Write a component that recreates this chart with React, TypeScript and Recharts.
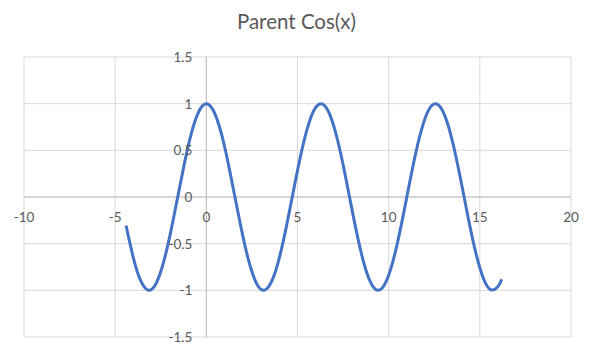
import React from 'react';
import { LineChart, Line, XAxis, YAxis, CartesianGrid, ReferenceLine, ReferenceDot } from 'recharts';

const xValues = [
  -4.4, -4.0, -3.6, -3.2, -2.8, -2.4, -2.0, -1.6, -1.2, -0.8, -0.4, 0,
  0.4, 0.8, 1.2, 1.6, 2.0, 2.4, 2.8, 3.2, 3.6, 4.0, 4.4, 4.8,
  5.2, 5.6, 6.0, 6.4, 6.8, 7.2, 7.6, 8.0, 8.4, 8.8, 9.2, 9.6,
  10.0, 10.4, 10.8, 11.2, 11.6, 12.0, 12.4, 12.8, 13.2, 13.6, 14.0, 14.4,
  14.8, 15.2, 15.6, 16.0, 16.2,
];
const yValues = [
  -0.307, -0.654, -0.897, -0.998, -0.942, -0.737, -0.416, -0.029, 0.362, 0.697, 0.921, 1,
  0.921, 0.697, 0.362, -0.029, -0.416, -0.737, -0.942, -0.998, -0.897, -0.654, -0.307, 0.088,
  0.469, 0.776, 0.960, 0.993, 0.869, 0.608, 0.251, -0.146, -0.519, -0.812, -0.975, -0.985,
  -0.839, -0.561, -0.194, 0.203, 0.569, 0.844, 0.986, 0.973, 0.806, 0.512, 0.137, -0.260,
  -0.615, -0.874, -0.994, -0.958, -0.882,
];
const xTicks = [-10, -5, 0, 5, 10, 15, 20];
const yTicks = [-1.5, -1, -0.5, 0, 0.5, 1, 1.5];
const title = 'Parent Cos(x)';

const data = xValues.map((x, i) => ({ x, y: yValues[i] }));

const FONT = 'Lato, Carlito, "Liberation Sans", sans-serif';
const TEXT_COLOR = '#595959';

const xLabel = (value: number) => (props: any) => {
  const vb = props.viewBox || {};
  return (
    <text x={vb.x} y={vb.y + 20} textAnchor="middle" dominantBaseline="central"
      fontSize={13.5} fontFamily={FONT} fill={TEXT_COLOR}>{String(value)}</text>
  );
};
const yLabel = (value: number) => (props: any) => {
  const vb = props.viewBox || {};
  return (
    <text x={vb.x - 14} y={vb.y} textAnchor="end" dominantBaseline="central"
      fontSize={13.5} fontFamily={FONT} fill={TEXT_COLOR}>{String(value)}</text>
  );
};

export default function App() {
  return (
    <div style={{ position: 'absolute', left: 0, top: 0, width: 593, height: 353, background: '#fff' }}>
      <div style={{
        position: 'absolute', left: 0, top: 9, width: 593, textAlign: 'center',
        fontFamily: FONT, fontSize: 20.5, color: TEXT_COLOR,
      }}>{title}</div>
      <LineChart width={593} height={353} data={data}
        margin={{ top: 57, left: 24, right: 22, bottom: 16 }}>
        <XAxis type="number" dataKey="x" domain={[-10, 20]} ticks={xTicks} hide />
        <YAxis type="number" domain={[-1.5, 1.5]} ticks={yTicks} hide />
        <CartesianGrid stroke="#d9d9d9" strokeWidth={1} />
        <ReferenceLine x={0} stroke="#bfbfbf" strokeWidth={1} />
        <ReferenceLine y={0} stroke="#bfbfbf" strokeWidth={1} />
        {xTicks.map((t) => (
          <ReferenceDot key={'x' + t} x={t} y={0} r={0} stroke="none" fill="none" label={xLabel(t)} />
        ))}
        {yTicks.map((t) => (
          <ReferenceDot key={'y' + t} x={0} y={t} r={0} stroke="none" fill="none" label={yLabel(t)} />
        ))}
        <Line type="natural" dataKey="y" stroke="#4472C4" strokeWidth={3} dot={false}
          isAnimationActive={false} />
      </LineChart>
    </div>
  );
}
